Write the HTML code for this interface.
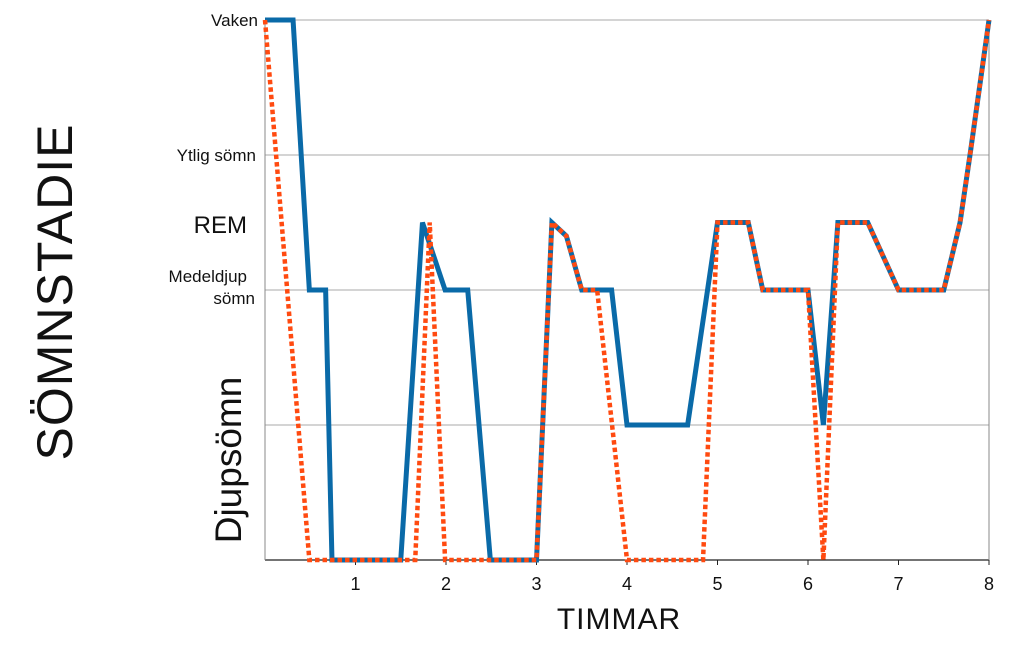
<!DOCTYPE html>
<html><head><meta charset="utf-8"><style>
body{margin:0;background:#fff;}
svg text{font-family:"Liberation Sans",sans-serif;fill:#111;}
</style></head><body>
<svg id="chart" width="1023" height="644" viewBox="0 0 1023 644" xmlns="http://www.w3.org/2000/svg">
<g id="grid"></g>
<g id="axes"></g>
<g id="labels">
<text x="258" y="26" text-anchor="end" font-size="17">Vaken</text>
<text x="256" y="161" text-anchor="end" font-size="17">Ytlig sömn</text>
<text x="247" y="233" text-anchor="end" font-size="24">REM</text>
<text x="247" y="282" text-anchor="end" font-size="17">Medeldjup</text>
<text x="255" y="304" text-anchor="end" font-size="17">sömn</text>
<text transform="translate(241,460) rotate(-90)" text-anchor="middle" font-size="37">Djupsömn</text>
</g>
<text transform="translate(72,292) rotate(-90)" text-anchor="middle" font-size="50" letter-spacing="1">SÖMNSTADIE</text>
<text x="619" y="629" text-anchor="middle" font-size="30" letter-spacing="1">TIMMAR</text>
<g id="series"></g>
</svg>
<script>
const xTicks=[1,2,3,4,5,6,7,8];
const levels=[0,1,2,3,4];
const blueX=[0,0.31,0.49,0.67,0.74,1.5,1.74,1.99,2.24,2.49,3.0,3.17,3.33,3.5,3.83,4.0,4.67,5.0,5.34,5.5,6.0,6.17,6.33,6.66,7.0,7.5,7.68,7.79,8];
const blueY=[4,4,2,2,0,0,2.5,2,2,0,0,2.5,2.4,2,2,1,1,2.5,2.5,2,2,1,2.5,2.5,2,2,2.5,3,4];
const orangeX=[0,0.49,1.66,1.82,1.99,3.0,3.17,3.33,3.5,3.67,4.0,4.84,5.0,5.34,5.5,6.0,6.17,6.33,6.66,7.0,7.5,7.68,7.79,8];
const orangeY=[4,0,0,2.5,0,0,2.5,2.4,2,2,0,0,2.5,2.5,2,2,0,2.5,2.5,2,2,2.5,3,4];
const NS="http://www.w3.org/2000/svg";
const X0=265,X1=989,Y0=560,Y1=20;
function sx(h){return X0+(X1-X0)*h/8;}
function sy(v){return Y0-(Y0-Y1)*v/4;}
const grid=document.getElementById('grid'),axes=document.getElementById('axes'),ser=document.getElementById('series');
levels.forEach(v=>{const l=document.createElementNS(NS,'line');


l.setAttribute('x1',X0);l.setAttribute('x2',X1);l.setAttribute('y1',sy(v));l.setAttribute('y2',sy(v));
l.setAttribute('stroke',v===0?'#222':'#aaa');l.setAttribute('stroke-width',v===0?1.2:1);grid.appendChild(l);});
const ya=document.createElementNS(NS,'line');


ya.setAttribute('x1',X0);ya.setAttribute('x2',X0);ya.setAttribute('y1',Y1);ya.setAttribute('y2',Y0);ya.setAttribute('stroke','#888');axes.appendChild(ya);
const ra=document.createElementNS(NS,'line');


ra.setAttribute('x1',X1);ra.setAttribute('x2',X1);ra.setAttribute('y1',Y1);ra.setAttribute('y2',Y0);ra.setAttribute('stroke','#888');axes.appendChild(ra);
xTicks.forEach(t=>{const tk=document.createElementNS(NS,'line');


tk.setAttribute('x1',sx(t));tk.setAttribute('x2',sx(t));tk.setAttribute('y1',Y0);tk.setAttribute('y2',Y0+5);tk.setAttribute('stroke','#222');axes.appendChild(tk);
const tx=document.createElementNS(NS,'text');


tx.setAttribute('x',sx(t));tx.setAttribute('y',Y0+30);tx.setAttribute('text-anchor','middle');tx.setAttribute('font-size','18');tx.textContent=t;axes.appendChild(tx);});
function pts(xs,ys){return xs.map((x,i)=>sx(x)+','+sy(ys[i])).join(' ');}
const b=document.createElementNS(NS,'polyline');


b.setAttribute('points',pts(blueX,blueY));b.setAttribute('fill','none');b.setAttribute('stroke','#0a6aa8');b.setAttribute('stroke-width','5');b.setAttribute('stroke-linejoin','miter');ser.appendChild(b);
const o=document.createElementNS(NS,'polyline');


o.setAttribute('points',pts(orangeX,orangeY));o.setAttribute('fill','none');o.setAttribute('stroke','#ff4a10');o.setAttribute('stroke-width','4.5');o.setAttribute('stroke-dasharray','4.5 3');ser.appendChild(o);
</script>
</body></html>
